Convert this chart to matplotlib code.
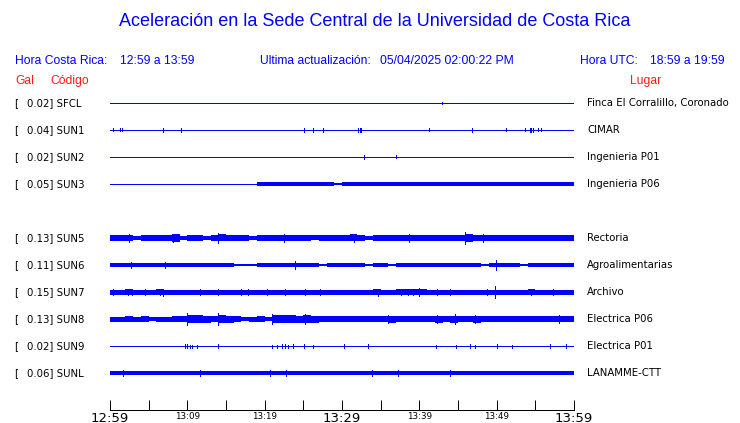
import numpy as np
import matplotlib
matplotlib.use("Agg")
import matplotlib.pyplot as plt
from matplotlib.transforms import blended_transform_factory

# --- DATA ---
TITLE = "Aceleración en la Sede Central de la Universidad de Costa Rica"
LOCAL_TIME = "12:59 a 13:59"
UTC_TIME = "18:59 a 19:59"
UPDATED = "05/04/2025 02:00:22 PM"

CODES = ["SFCL", "SUN1", "SUN2", "SUN3", "SUN5", "SUN6", "SUN7", "SUN8", "SUN9", "SUNL"]
GAL = [0.02, 0.04, 0.02, 0.05, 0.13, 0.11, 0.15, 0.13, 0.02, 0.06]
PLACES = ["Finca El Corralillo, Coronado", "CIMAR", "Ingenieria P01", "Ingenieria P06",
          "Rectoria", "Agroalimentarias", "Archivo", "Electrica P06", "Electrica P01",
          "LANAMME-CTT"]

TICK_MINUTES = [0, 5, 10, 15, 20, 25, 30, 35, 40, 45, 50, 55, 60]
TICK_LABELS = ["12:59", "", "13:09", "", "13:19", "", "13:29", "", "13:39", "", "13:49", "", "13:59"]

# per-minute envelope (half amplitude, trace counts)
ENV_SUN3 = [0, 0, 0, 0, 0, 0, 0, 0, 0, 0,
            0, 0, 0, 0, 0, 0, 0, 0, 0, 1.6,
            1.6, 1.6, 1.6, 1.6, 1.6, 1.6, 1.6, 1.6, 1.6, 1.1,
            1.6, 1.6, 1.3, 1.6, 1.6, 1.6, 1.6, 1.6, 1.6, 1.6,
            1.6, 1.6, 1.6, 1.6, 1.6, 1.6, 1.6, 1.6, 1.6, 1.6,
            1.6, 1.6, 1.6, 1.6, 1.6, 1.6, 1.6, 1.6, 1.6, 1.6]
ENV_SUN5 = [2.2, 2.2, 2.5, 1.6, 2.2, 2.5, 2.6, 2.2, 3.0, 1.8,
            2.2, 2.2, 1.6, 2.2, 2.8, 2.2, 2.2, 2.2, 1.6, 2.2,
            2.2, 2.2, 2.6, 2.6, 2.3, 2.6, 2.0, 2.2, 2.2, 2.2,
            2.6, 2.8, 2.2, 1.6, 2.2, 2.2, 2.3, 2.2, 2.6, 2.2,
            2.2, 2.2, 2.2, 2.2, 2.3, 2.5, 3.0, 2.6, 2.6, 2.6,
            2.2, 2.2, 2.6, 2.2, 2.2, 2.3, 2.2, 2.2, 2.2, 2.5]
ENV_SUN6 = [1.6, 1.6, 1.3, 1.6, 1.6, 1.3, 1.6, 1.8, 1.6, 1.3,
            1.6, 1.3, 1.6, 1.6, 1.3, 1.6, 1.0, 0.6, 1.0, 1.6,
            1.6, 1.3, 1.6, 1.6, 1.8, 1.6, 1.3, 1.0, 1.6, 1.6,
            1.3, 1.6, 1.6, 0.8, 1.6, 1.6, 1.0, 1.6, 1.6, 1.3,
            1.6, 1.6, 1.6, 1.6, 1.3, 1.6, 1.6, 1.6, 1.0, 1.6,
            1.8, 1.6, 1.3, 1.0, 1.6, 1.6, 1.6, 1.3, 1.6, 1.6]
ENV_SUN7 = [2.0, 2.0, 2.2, 2.0, 2.0, 2.0, 2.2, 2.0, 2.0, 2.0,
            2.0, 2.0, 2.0, 2.0, 2.0, 2.0, 2.0, 2.0, 2.0, 2.0,
            2.0, 2.0, 2.0, 2.0, 2.0, 2.0, 2.0, 2.0, 2.0, 2.0,
            2.0, 2.0, 2.0, 2.0, 2.2, 2.0, 2.0, 2.2, 2.2, 2.2,
            2.2, 2.0, 2.0, 2.0, 2.0, 2.0, 2.0, 2.0, 2.0, 2.0,
            2.0, 2.0, 2.0, 2.0, 2.2, 2.0, 2.0, 2.0, 2.0, 2.0]
ENV_SUN8 = [2.0, 2.0, 2.2, 2.0, 2.2, 1.8, 2.0, 2.0, 2.3, 2.5,
            3.2, 3.0, 2.8, 2.7, 3.3, 2.8, 2.3, 1.8, 2.0, 2.2,
            1.8, 3.3, 3.0, 3.0, 2.8, 3.2, 2.8, 2.3, 2.3, 2.3,
            2.2, 2.3, 2.3, 2.3, 2.3, 2.5, 2.8, 2.5, 2.5, 2.3,
            2.3, 2.5, 2.8, 2.5, 2.8, 2.5, 2.3, 2.8, 2.5, 2.3,
            2.5, 2.3, 2.3, 2.5, 2.3, 2.3, 2.5, 2.5, 2.5, 2.5]
ENV_SUNL = [1.7, 1.6, 1.7, 1.3, 1.7, 1.3, 1.7, 1.7, 1.5, 1.7,
            1.7, 1.7, 1.5, 1.7, 1.5, 1.7, 1.7, 1.5, 1.7, 1.7,
            1.5, 1.7, 1.7, 1.7, 1.7, 1.5, 1.7, 1.7, 1.7, 1.7,
            1.7, 1.7, 1.5, 1.7, 1.8, 1.5, 1.7, 1.7, 1.5, 1.7,
            1.7, 1.5, 1.7, 1.7, 1.7, 1.5, 1.7, 1.7, 1.7, 1.5,
            1.7, 1.7, 1.5, 1.7, 1.7, 1.5, 1.7, 1.7, 1.7, 1.7]

# isolated peaks: minute after 12:59 and half amplitude
PEAK_T_SFCL = [42.9]
PEAK_H_SFCL = [1.0]
PEAK_T_SUN1 = [0.4, 1.3, 1.5, 6.9, 9.2, 25.1, 26.2, 27.5, 32.1, 32.3, 32.5,
               41.3, 46.8, 51.2, 53.6, 54.3, 54.5, 54.7, 55.4, 55.7]
PEAK_H_SUN1 = [1.2, 1.2, 1.2, 1.6, 1.6, 1.6, 1.6, 1.6, 1.4, 1.4, 1.4,
               1.2, 1.4, 1.2, 1.2, 1.4, 1.4, 1.4, 1.2, 1.2]
PEAK_T_SUN2 = [32.8, 37.0]
PEAK_H_SUN2 = [1.3, 1.2]
PEAK_T_SUN5 = [2.4, 8.2, 14.0, 22.5, 31.5, 38.6, 45.9, 48.2]
PEAK_H_SUN5 = [3.0, 3.5, 4.0, 3.2, 3.5, 3.5, 5.0, 3.3]
PEAK_T_SUN6 = [2.7, 7.1, 23.9, 49.9]
PEAK_H_SUN6 = [2.2, 2.5, 3.2, 4.2]
PEAK_T_SUN7 = [0.4, 2.3, 2.8, 4.5, 6.5, 6.9, 11.6, 14.0, 16.9, 17.9, 20.3, 22.6, 25.2,
               27.2, 34.6, 37.6, 38.5, 39.2, 40.0, 42.3, 44.0, 48.7, 49.8, 54.5, 57.3]
PEAK_H_SUN7 = [2.6, 2.4, 2.4, 2.6, 2.6, 2.8, 2.6, 2.4, 2.3, 2.3, 2.4, 2.4, 2.3,
               2.3, 2.8, 2.4, 2.6, 2.4, 3.0, 2.6, 2.4, 2.4, 4.7, 2.6, 2.4]
PEAK_T_SUN8 = [9.9, 14.0, 20.9, 25.2, 36.0, 42.3, 44.6, 47.2, 58.0]
PEAK_H_SUN8 = [4.5, 4.5, 4.0, 4.3, 3.5, 3.2, 4.0, 3.5, 3.0]
PEAK_T_SUN9 = [9.7, 9.9, 10.3, 10.6, 11.3, 14.0, 20.9, 21.6, 22.2, 22.6, 23.0, 23.6,
               25.1, 26.2, 30.3, 33.3, 42.2, 44.7, 46.6, 47.2, 50.0, 52.0, 56.9, 59.0]
PEAK_H_SUN9 = [1.4, 1.4, 1.2, 1.2, 1.2, 1.6, 1.2, 1.2, 1.3, 1.3, 1.2, 1.4,
               1.6, 1.2, 1.3, 1.5, 1.2, 1.2, 1.5, 1.2, 1.3, 1.2, 1.5, 1.3]
PEAK_T_SUNL = [1.7, 11.6, 20.7, 22.8, 33.9, 37.3, 44.0]
PEAK_H_SUNL = [2.4, 2.2, 2.2, 2.7, 2.7, 2.2, 2.2]

ENVELOPES = [None, None, None, ENV_SUN3, ENV_SUN5, ENV_SUN6, ENV_SUN7, ENV_SUN8, None, ENV_SUNL]
PEAKS_T = [PEAK_T_SFCL, PEAK_T_SUN1, PEAK_T_SUN2, [], PEAK_T_SUN5, PEAK_T_SUN6,
           PEAK_T_SUN7, PEAK_T_SUN8, PEAK_T_SUN9, PEAK_T_SUNL]
PEAKS_H = [PEAK_H_SFCL, PEAK_H_SUN1, PEAK_H_SUN2, [], PEAK_H_SUN5, PEAK_H_SUN6,
           PEAK_H_SUN7, PEAK_H_SUN8, PEAK_H_SUN9, PEAK_H_SUNL]

# --- LAYOUT ---
W, H = 740, 423
BLUE = "#0000ff"
RED = "#ff1a1a"
HEAD_FONT = "Liberation Sans"
ROW_FONT = "DejaVu Sans"
GAIN = 1.25 / 27.0       # trace counts -> row units (rows are 27 px apart)
SLOTS = [0, 1, 2, 3, 5, 6, 7, 8, 9, 10]   # SUN4 has no row


def fx(x):
    return x / W


def fy(y):
    return 1 - y / H


def main():
    fig = plt.figure(figsize=(W / 100, H / 100), dpi=100)
    fig.patch.set_facecolor("white")

    # trace axes: x = minutes after 12:59, y = row slot
    ax = fig.add_axes([fx(110), fy(409.5), (574 - 110) / W, (409.5 - 90) / H])
    ax.set_xlim(0, 60)
    ax.set_ylim((409.5 - 103) / 27, (90 - 103) / 27)

    minutes = np.arange(61)
    for slot, env, pt, ph in zip(SLOTS, ENVELOPES, PEAKS_T, PEAKS_H):
        ax.plot([0, 60], [slot, slot], color=BLUE, lw=0.7, antialiased=False)
        if env is not None:
            e = np.array(env + [env[-1]]) * GAIN
            ax.fill_between(minutes, slot - e, slot + e, step="post",
                            color=BLUE, lw=0, antialiased=False)
        if pt:
            h = np.array(ph) * GAIN
            ax.vlines(pt, slot - h, slot + h, color=BLUE, lw=0.5, antialiased=False)

    for side in ["top", "left", "right"]:
        ax.spines[side].set_visible(False)
    ax.spines["bottom"].set_linewidth(0.72)
    ax.set_yticks([])
    ax.set_xticks(TICK_MINUTES)
    ax.set_xticklabels(TICK_LABELS)
    ax.tick_params(axis="x", direction="in", length=7, width=0.72, pad=1.5)
    for lab in ax.get_xticklabels():
        if lab.get_text() in ("12:59", "13:29", "13:59"):
            lab.set_fontsize(9.5)
        else:
            lab.set_fontsize(6.3)
        lab.set_family(ROW_FONT)

    # row labels on both sides, placed on the row slots
    row_tr = blended_transform_factory(fig.transFigure, ax.transData)
    for slot, g, code, place in zip(SLOTS, GAL, CODES, PLACES):
        ax.text(fx(14), slot, "[", transform=row_tr, ha="left", va="center",
                fontsize=7.3, family=ROW_FONT)
        ax.text(fx(27), slot, f"{g:.2f}] {code}", transform=row_tr, ha="left",
                va="center", fontsize=7.3, family=ROW_FONT)
        ax.text(fx(587), slot, place, transform=row_tr, ha="left", va="center",
                fontsize=7.3, family=ROW_FONT)

    # header
    fig.text(fx(375), fy(22), TITLE, ha="center", va="center", fontsize=13,
             color=BLUE, family=HEAD_FONT)
    head = [(15, "Hora Costa Rica:"), (120, LOCAL_TIME),
            (260, "Ultima actualización:"), (380, UPDATED),
            (580, "Hora UTC:"), (650, UTC_TIME)]
    for x, s in head:
        fig.text(fx(x), fy(61), s, ha="left", va="center", fontsize=8.7,
                 color=BLUE, family=HEAD_FONT)
    for x, s in [(15, "Gal"), (50, "Código"), (630, "Lugar")]:
        fig.text(fx(x), fy(81), s, ha="left", va="center", fontsize=8.7,
                 color=RED, family=HEAD_FONT)

    fig.savefig("out.png", dpi=100)


if __name__ == "__main__":
    main()
